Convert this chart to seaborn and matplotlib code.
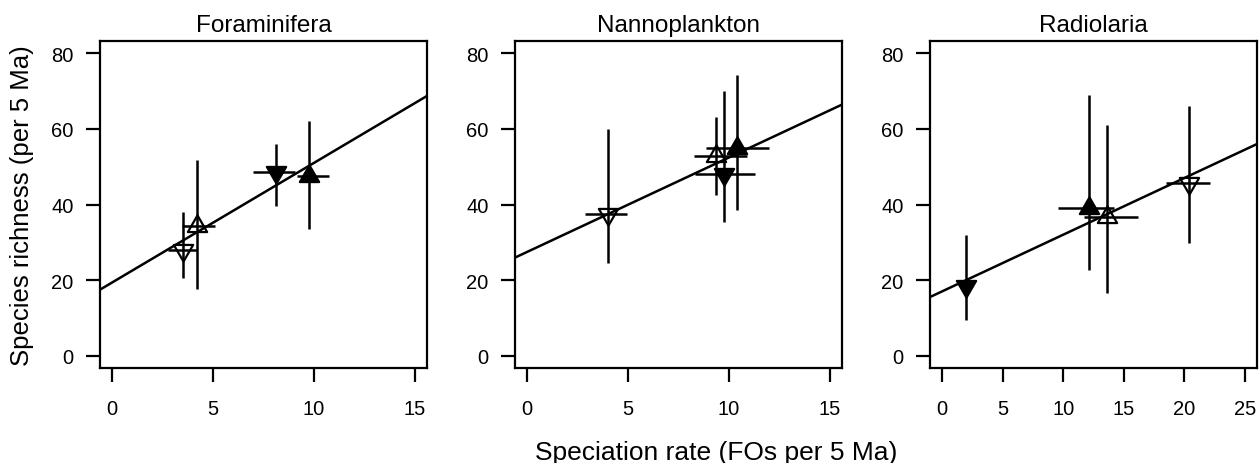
import matplotlib
matplotlib.use("Agg")
import matplotlib.pyplot as plt
from matplotlib.path import Path
import numpy as np
import pandas as pd
import seaborn as sns

# marker order in every panel: open down, open up, filled down, filled up
KINDS = ["open_down", "open_up", "filled_down", "filled_up"]

TAXA = ["Foraminifera", "Nannoplankton", "Radiolaria"]

foram_x = [3.49, 4.22, 8.13, 9.77]
foram_y = [28.0, 34.4, 48.7, 47.4]
foram_x_lo = [2.78, 3.46, 6.98, 9.16]
foram_x_hi = [4.22, 5.11, 9.08, 10.76]
foram_y_lo = [20.6, 17.6, 39.6, 33.6]
foram_y_hi = [37.9, 51.8, 56.0, 62.1]

nanno_x = [4.00, 9.37, 9.74, 10.40]
nanno_y = [37.5, 52.9, 48.1, 55.0]
nanno_x_lo = [2.88, 8.25, 8.33, 8.88]
nanno_x_hi = [4.95, 10.90, 11.31, 12.00]
nanno_y_lo = [24.5, 42.5, 35.5, 38.6]
nanno_y_hi = [59.9, 63.0, 70.0, 74.1]

radio_x = [20.36, 13.64, 2.00, 12.09]
radio_y = [45.8, 36.7, 18.5, 39.2]
radio_x_lo = [18.51, 11.71, 1.50, 9.59]
radio_x_hi = [22.12, 16.14, 2.50, 14.21]
radio_y_lo = [29.8, 16.6, 9.5, 22.7]
radio_y_hi = [66.1, 61.0, 32.0, 69.0]

x_ticks = {"Foraminifera": [0, 5, 10, 15],
           "Nannoplankton": [0, 5, 10, 15],
           "Radiolaria": [0, 5, 10, 15, 20, 25]}
y_ticks = [0, 20, 40, 60, 80]


def make_df(taxon, x, y, xlo, xhi, ylo, yhi):
    return pd.DataFrame({"taxon": taxon, "kind": KINDS, "x": x, "y": y,
                         "x_lo": xlo, "x_hi": xhi, "y_lo": ylo, "y_hi": yhi})


df = pd.concat([
    make_df("Foraminifera", foram_x, foram_y, foram_x_lo, foram_x_hi, foram_y_lo, foram_y_hi),
    make_df("Nannoplankton", nanno_x, nanno_y, nanno_x_lo, nanno_x_hi, nanno_y_lo, nanno_y_hi),
    make_df("Radiolaria", radio_x, radio_y, radio_x_lo, radio_x_hi, radio_y_lo, radio_y_hi),
], ignore_index=True)

# equilateral triangles centred on their centroid, like R's pch 2 / 6
tri_up = Path([(0, 1), (-0.866, -0.5), (0.866, -0.5), (0, 1)],
              [Path.MOVETO, Path.LINETO, Path.LINETO, Path.CLOSEPOLY])
tri_down = Path([(0, -1), (-0.866, 0.5), (0.866, 0.5), (0, -1)],
                [Path.MOVETO, Path.LINETO, Path.LINETO, Path.CLOSEPOLY])
MARKERS = {"open_down": (tri_down, "none"), "open_up": (tri_up, "none"),
           "filled_down": (tri_down, "black"), "filled_up": (tri_up, "black")}

sns.set_theme(style="ticks")
plt.rcParams["font.family"] = ["Liberation Sans", "DejaVu Sans"]
plt.rcParams["axes.linewidth"] = 1.6
plt.rcParams["text.color"] = "black"
plt.rcParams["axes.labelcolor"] = "black"

fig = plt.figure(figsize=(12.59, 4.64), dpi=100)
lefts = [100 / 1259, 515 / 1259, 930 / 1259]

for left, taxon in zip(lefts, TAXA):
    ax = fig.add_axes([left, 1 - 369 / 464, 327 / 1259, 327 / 464])
    sub = df[df["taxon"] == taxon]
    ticks = x_ticks[taxon]
    span = ticks[-1] - ticks[0]
    ax.set_xlim(ticks[0] - 0.04 * span, ticks[-1] + 0.04 * span)
    ax.set_ylim(-3.2, 83.2)

    sns.regplot(data=sub, x="x", y="y", ci=None, scatter=False, truncate=False,
                line_kws=dict(color="black", lw=1.8), ax=ax)

    for _, r in sub.iterrows():
        mk, fc = MARKERS[r["kind"]]
        ax.errorbar(r["x"], r["y"],
                    xerr=[[r["x"] - r["x_lo"]], [r["x_hi"] - r["x"]]],
                    yerr=[[r["y"] - r["y_lo"]], [r["y_hi"] - r["y"]]],
                    fmt="none", ecolor="black", elinewidth=1.8, capsize=0)
        ax.plot(r["x"], r["y"], marker=mk, ms=16, mfc=fc, mec="black",
                mew=1.6, ls="none")

    ax.set_xticks(ticks)
    ax.set_yticks(y_ticks)
    ax.tick_params(axis="both", direction="out", length=10, width=1.6,
                   labelsize=14.5, colors="black")
    ax.tick_params(axis="x", pad=12)
    ax.tick_params(axis="y", pad=9)
    for s in ax.spines.values():
        s.set_visible(True)
        s.set_color("black")
    ax.set_xlabel("")
    ax.set_ylabel("")
    ax.set_title(taxon, fontsize=17.5, pad=7, color="black")

fig.text(22.5 / 1259, 1 - 205.5 / 464, "Species richness (per 5 Ma)",
         rotation=90, ha="center", va="center", fontsize=18.5)
fig.text(716 / 1259, 1 - 460 / 464, "Speciation rate (FOs per 5 Ma)",
         ha="center", va="baseline", fontsize=19)

fig.savefig("out.png", dpi=100)
plt.close(fig)
